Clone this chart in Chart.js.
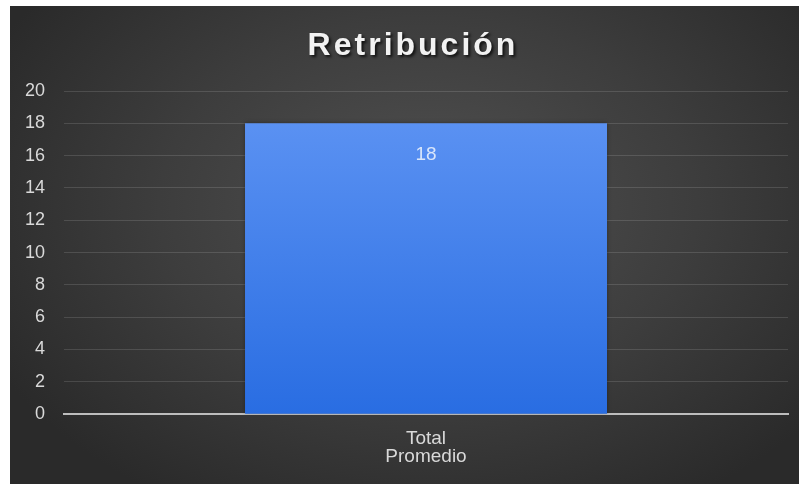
<!DOCTYPE html>
<html>
<head>
<meta charset="utf-8">
<script src="https://cdn.jsdelivr.net/npm/chart.js@4.4.0/dist/chart.umd.min.js"></script>
<style>
  html, body { margin: 0; padding: 0; background: #fff; }
  .card {
    position: absolute;
    left: 10px;
    top: 6px;
    width: 789px;
    height: 478px;
    background: radial-gradient(ellipse 62% 72% at 53% 42%, #515151 0%, #3d3d3d 55%, #2a2a2a 100%);
  }
</style>
</head>
<body>
<div class="card"><canvas id="chart" width="789" height="478"></canvas></div>
<script>
const titleText = "Retribución";
const categories = [["Total", "Promedio"]];
const values = [18];
const yMin = 0;
const yMax = 20;
const yStep = 2;

const font = "'Liberation Sans', Arial, sans-serif";

// bold title with letter spacing and a soft drop shadow
const shadowTitle = {
    id: "shadowTitle",
    afterDraw(chart) {
        const ctx = chart.ctx;
        ctx.save();
        ctx.font = "bold 32px " + font;
        ctx.letterSpacing = "3px";
        ctx.fillStyle = "#f2f2f2";
        ctx.shadowColor = "rgba(0, 0, 0, 0.75)";
        ctx.shadowBlur = 3;
        ctx.shadowOffsetX = 2;
        ctx.shadowOffsetY = 2;
        ctx.textAlign = "center";
        ctx.textBaseline = "alphabetic";
        ctx.fillText(titleText, 403, 49);
        ctx.restore();
    }
};

// faint shadow around the bars, then the value printed inside the top of each bar
const valueLabels = {
    id: "valueLabels",
    beforeDatasetsDraw(chart) {
        const ctx = chart.ctx;
        ctx.save();
        ctx.shadowColor = "rgba(0, 0, 0, 0.35)";
        ctx.shadowBlur = 4;
    },
    afterDatasetsDraw(chart) {
        const ctx = chart.ctx;
        ctx.restore();
        chart.getDatasetMeta(0).data.forEach((bar, i) => {
            ctx.save();
            ctx.font = "19px " + font;
            ctx.fillStyle = "rgba(236, 242, 252, 0.88)";
            ctx.textAlign = "center";
            ctx.textBaseline = "middle";
            ctx.fillText(String(values[i]), bar.x, bar.y + 31);
            ctx.restore();
        });
    }
};

const barGradient = (context) => {
    const area = context.chart.chartArea;
    if (!area) {
        return "#3f7fec";
    }
    const g = context.chart.ctx.createLinearGradient(0, area.top, 0, area.bottom);
    g.addColorStop(0, "#6096f3");
    g.addColorStop(0.1, "#5a91f2");
    g.addColorStop(1, "#296de2");
    return g;
};

new Chart(document.getElementById("chart").getContext("2d"), {
    type: "bar",
    data: {
        labels: categories,
        datasets: [{
            data: values,
            backgroundColor: barGradient,
            borderWidth: 0,
            barPercentage: 0.5,
            categoryPercentage: 1
        }]
    },
    options: {
        responsive: false,
        animation: false,
        layout: {
            padding: {top: 85, left: -4, right: 11, bottom: 3}
        },
        plugins: {
            legend: {display: false},
            title: {display: false},
            tooltip: {enabled: false}
        },
        scales: {
            x: {
                grid: {display: false, drawTicks: false},
                border: {display: true, color: "#bdbdbd", width: 2},
                ticks: {
                    color: "#d9d9d9",
                    padding: 15,
                    font: {family: font, size: 19, lineHeight: 0.97}
                }
            },
            y: {
                min: yMin,
                max: yMax,
                grid: {color: "rgba(255, 255, 255, 0.13)", lineWidth: 1, drawTicks: false},
                border: {display: false},
                ticks: {
                    stepSize: yStep,
                    color: "#d9d9d9",
                    padding: 19,
                    font: {family: font, size: 18}
                }
            }
        }
    },
    plugins: [shadowTitle, valueLabels]
});
</script>
</body>
</html>
